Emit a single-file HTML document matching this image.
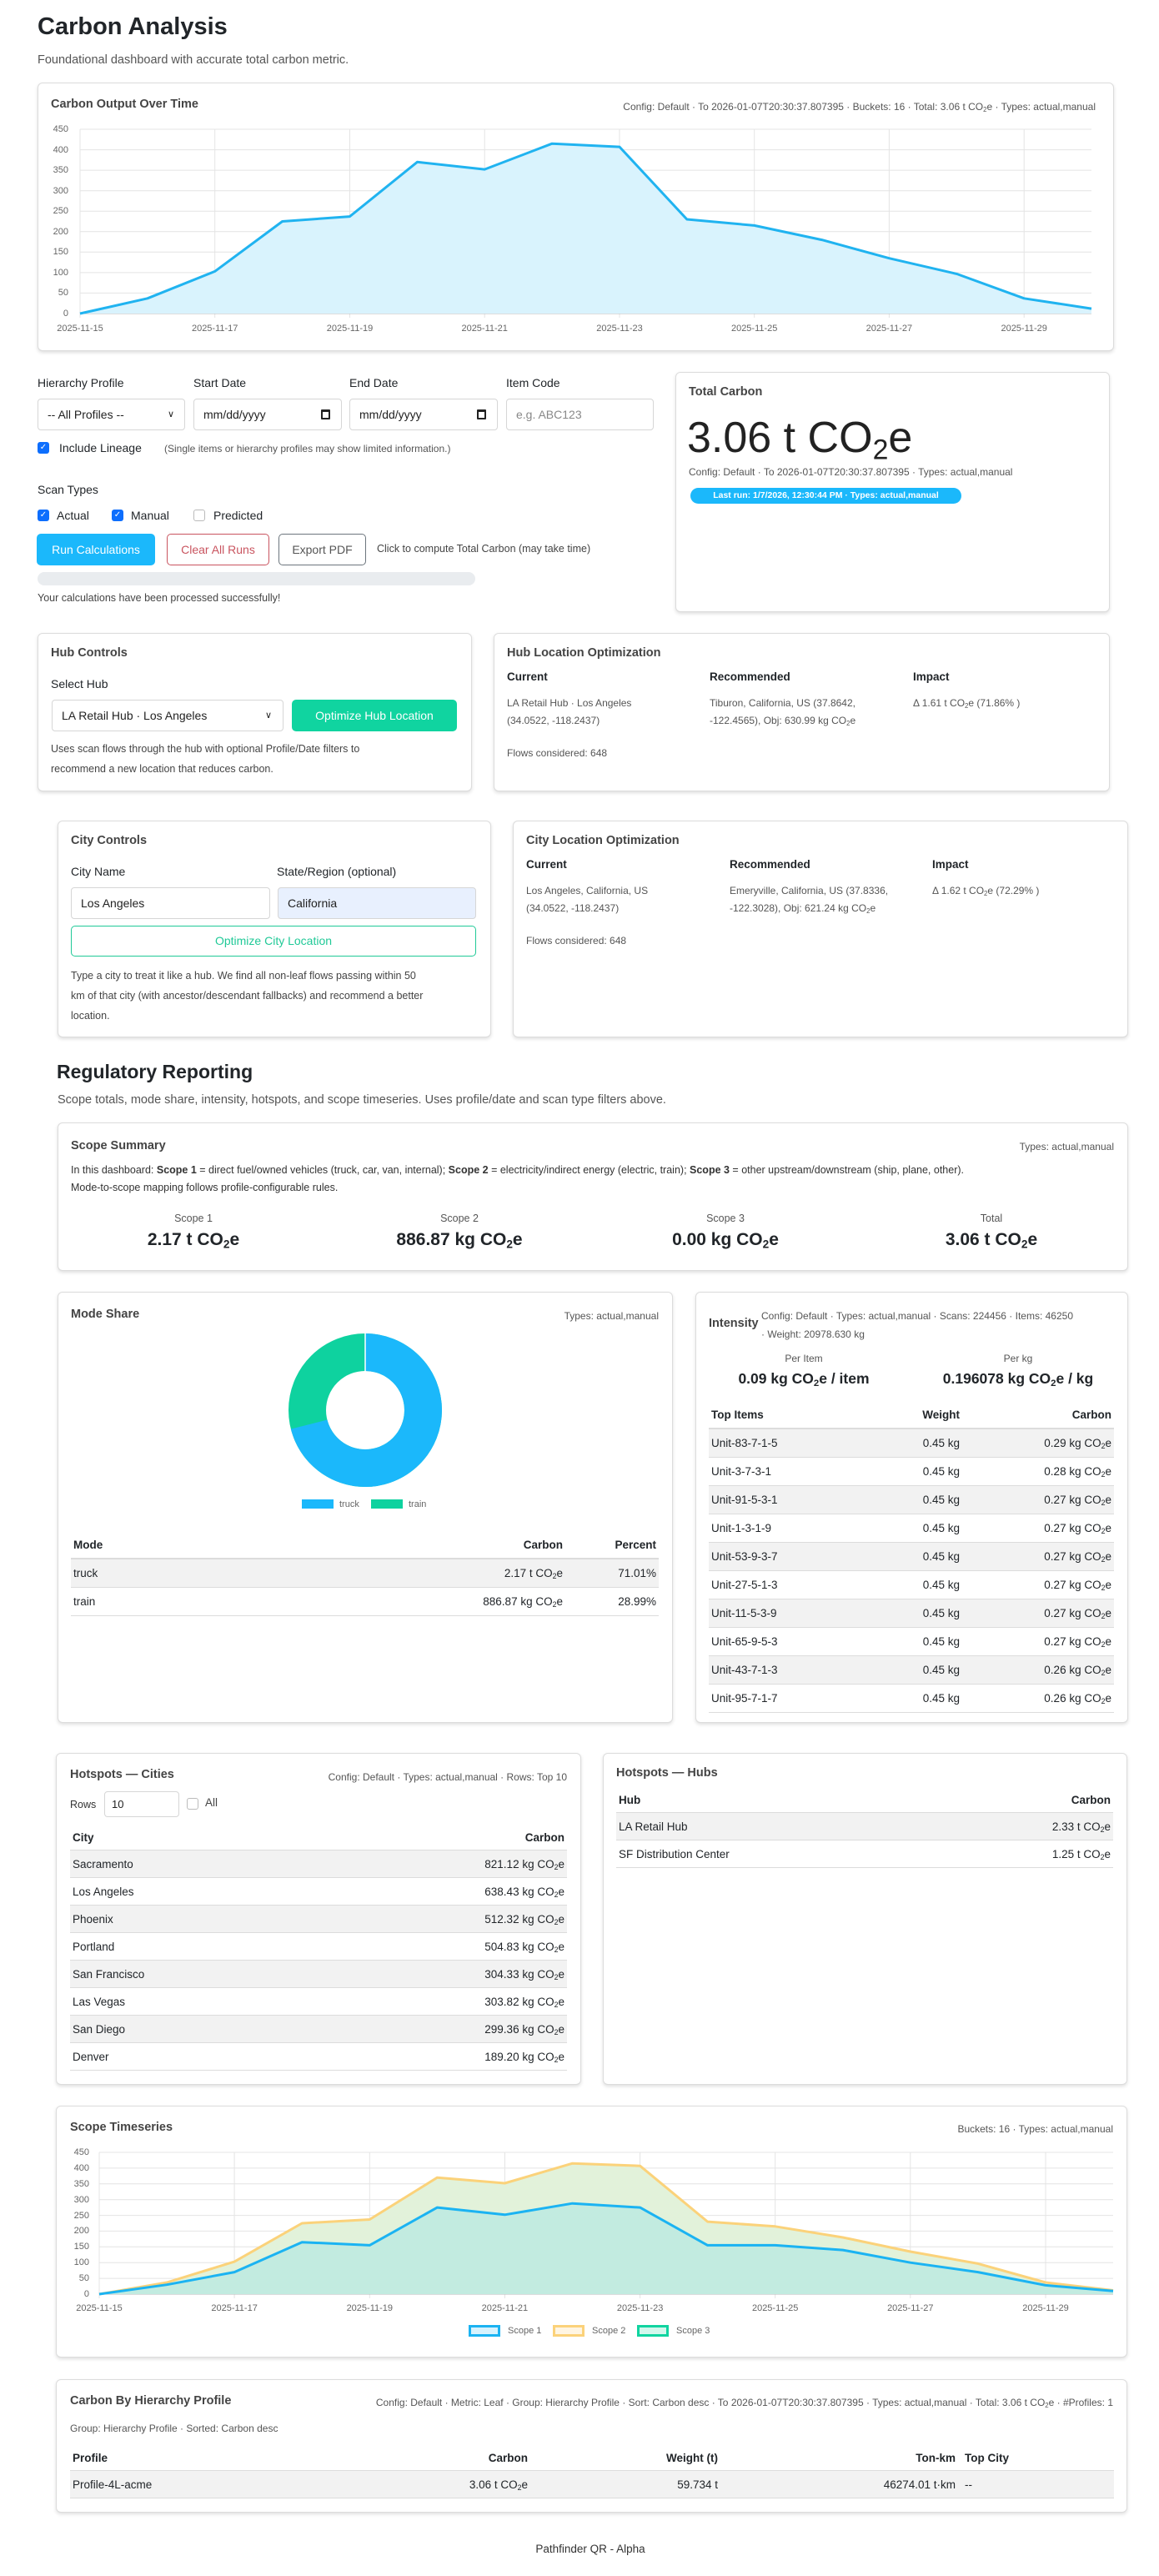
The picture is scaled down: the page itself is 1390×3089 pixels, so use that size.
<!DOCTYPE html>
<html><head><meta charset="utf-8">
<style>
*{box-sizing:border-box;margin:0;padding:0}
body{width:1390px;height:3089px;position:relative;background:#fff;font-family:"Liberation Sans",Arial,sans-serif;color:#212529;overflow:hidden}
.a{position:absolute;white-space:nowrap;line-height:20px}
.card{position:absolute;border:1px solid #dcdcdc;border-radius:6px;box-shadow:0 2px 4px rgba(0,0,0,.13);background:#fff}
.ct{font-size:14.5px;color:#444;font-weight:bold}
.m{font-size:12px;color:#555}
.s{font-size:13px;color:#444}
.b{font-weight:bold}
.inp{position:absolute;border:1px solid #d6d6d6;border-radius:4px;background:#fff;font-size:14px;line-height:36px;padding-left:11px;color:#222}
sub{font-size:0.65em;vertical-align:-0.25em;line-height:0}
.row{position:absolute;height:34px;border-bottom:1px solid #dcdcdc;font-size:13.5px;line-height:33px}
.g{background:#f2f2f2}
.row span{position:absolute;white-space:nowrap}
.hd{position:absolute;height:20px;font-size:13.5px;font-weight:bold;line-height:20px}
.hd span{position:absolute;white-space:nowrap}
.cb{position:absolute;width:14px;height:14px;border-radius:3px;background:#0d6efd;color:#fff;font-size:10px;line-height:14px;text-align:center}
.cbe{position:absolute;width:14px;height:14px;border-radius:3px;border:1px solid #bbb;background:#fff}
.yl{position:absolute;font-size:11px;color:#666;text-align:right;width:30px;line-height:12px}
.xl{position:absolute;font-size:11px;color:#666;width:80px;text-align:center;line-height:12px}
</style></head><body>

<div class="a b" style="left:45px;top:14px;font-size:29px;line-height:36px">Carbon Analysis</div>
<div class="a" style="left:45px;top:62px;font-size:14.5px;color:#555">Foundational dashboard with accurate total carbon metric.</div>

<!-- Card 1 -->
<div class="card" style="left:45px;top:99px;width:1291px;height:322px"></div>
<div class="a ct" style="left:61px;top:115px">Carbon Output Over Time</div>
<div class="a m" style="right:76px;top:118px">Config: Default · To 2026-01-07T20:30:37.807395 · Buckets: 16 · Total: 3.06 t CO<sub>2</sub>e · Types: actual,manual</div>
<svg style="position:absolute;left:0;top:140px" width="1390" height="250" viewBox="0 140 1390 250">
<g stroke="#e4e4e4" stroke-width="1">
<line x1="96" x2="1309" y1="155" y2="155"/><line x1="96" x2="1309" y1="179.6" y2="179.6"/><line x1="96" x2="1309" y1="204.1" y2="204.1"/><line x1="96" x2="1309" y1="228.7" y2="228.7"/><line x1="96" x2="1309" y1="253.2" y2="253.2"/><line x1="96" x2="1309" y1="277.8" y2="277.8"/><line x1="96" x2="1309" y1="302.3" y2="302.3"/><line x1="96" x2="1309" y1="326.9" y2="326.9"/><line x1="96" x2="1309" y1="351.4" y2="351.4"/>
<line x1="96" x2="96" y1="155" y2="381"/><line x1="257.7" x2="257.7" y1="155" y2="381"/><line x1="419.5" x2="419.5" y1="155" y2="381"/><line x1="581.2" x2="581.2" y1="155" y2="381"/><line x1="743" x2="743" y1="155" y2="381"/><line x1="904.7" x2="904.7" y1="155" y2="381"/><line x1="1066.4" x2="1066.4" y1="155" y2="381"/><line x1="1228.2" x2="1228.2" y1="155" y2="381"/>
</g>
<line x1="96" x2="1309" y1="376" y2="376" stroke="#bbb"/>
<path d="M96,376 L176.9,357.8 L257.7,325.4 L338.6,265.5 L419.5,259.6 L500.4,194.3 L581.2,203.1 L662.1,172.2 L743,176.1 L823.8,263 L904.7,270.4 L985.6,287.6 L1066.4,309.7 L1147.3,328.4 L1228.2,357.8 L1309,370.1 L1309,376 Z" fill="#d9f3fd"/>
<polyline points="96,376 176.9,357.8 257.7,325.4 338.6,265.5 419.5,259.6 500.4,194.3 581.2,203.1 662.1,172.2 743,176.1 823.8,263 904.7,270.4 985.6,287.6 1066.4,309.7 1147.3,328.4 1228.2,357.8 1309,370.1" fill="none" stroke="#20b3f0" stroke-width="3" stroke-linejoin="round"/>
</svg>
<div class="yl" style="left:52px;top:149px">450</div><div class="yl" style="left:52px;top:173.6px">400</div><div class="yl" style="left:52px;top:198.1px">350</div><div class="yl" style="left:52px;top:222.7px">300</div><div class="yl" style="left:52px;top:247.2px">250</div><div class="yl" style="left:52px;top:271.8px">200</div><div class="yl" style="left:52px;top:296.3px">150</div><div class="yl" style="left:52px;top:320.9px">100</div><div class="yl" style="left:52px;top:345.4px">50</div><div class="yl" style="left:52px;top:370px">0</div>
<div class="xl" style="left:56px;top:388px">2025-11-15</div><div class="xl" style="left:217.7px;top:388px">2025-11-17</div><div class="xl" style="left:379.5px;top:388px">2025-11-19</div><div class="xl" style="left:541.2px;top:388px">2025-11-21</div><div class="xl" style="left:703px;top:388px">2025-11-23</div><div class="xl" style="left:864.7px;top:388px">2025-11-25</div><div class="xl" style="left:1026.4px;top:388px">2025-11-27</div><div class="xl" style="left:1188.2px;top:388px">2025-11-29</div>

<!-- Form -->
<div class="a" style="left:45px;top:449px;font-size:14px">Hierarchy Profile</div>
<div class="a" style="left:232px;top:449px;font-size:14px">Start Date</div>
<div class="a" style="left:419px;top:449px;font-size:14px">End Date</div>
<div class="a" style="left:607px;top:449px;font-size:14px">Item Code</div>
<div class="inp" style="left:45px;top:478px;width:177px;height:38px">-- All Profiles --<span style="position:absolute;left:155px;font-size:11px">&#8744;</span></div>
<div class="inp" style="left:232px;top:478px;width:178px;height:38px">mm/dd/yyyy<span style="position:absolute;left:152px;top:12px;width:11px;height:12px;border:2px solid #222;border-top-width:3px;border-radius:1px"></span></div>
<div class="inp" style="left:419px;top:478px;width:178px;height:38px">mm/dd/yyyy<span style="position:absolute;left:152px;top:12px;width:11px;height:12px;border:2px solid #222;border-top-width:3px;border-radius:1px"></span></div>
<div class="inp" style="left:607px;top:478px;width:177px;height:38px;color:#888">e.g. ABC123</div>
<div class="cb" style="left:45px;top:530px">&#10003;</div>
<div class="a" style="left:71px;top:527px;font-size:14px">Include Lineage</div>
<div class="a" style="left:197px;top:528px;font-size:12px;color:#555">(Single items or hierarchy profiles may show limited information.)</div>
<div class="a" style="left:45px;top:577px;font-size:14px">Scan Types</div>
<div class="cb" style="left:45px;top:611px">&#10003;</div><div class="a" style="left:68px;top:608px;font-size:14px">Actual</div>
<div class="cb" style="left:134px;top:611px">&#10003;</div><div class="a" style="left:157px;top:608px;font-size:14px">Manual</div>
<div class="cbe" style="left:232px;top:611px"></div><div class="a" style="left:256px;top:608px;font-size:14px">Predicted</div>
<div class="a" style="left:44px;top:640px;width:142px;height:38px;background:#1bb8fb;border-radius:5px;color:#fff;font-size:14px;line-height:38px;text-align:center">Run Calculations</div>
<div class="a" style="left:200px;top:640px;width:123px;height:38px;border:1px solid #c9545f;border-radius:5px;color:#c9545f;font-size:14px;line-height:36px;text-align:center">Clear All Runs</div>
<div class="a" style="left:334px;top:640px;width:105px;height:38px;border:1px solid #6c757d;border-radius:5px;color:#555;font-size:14px;line-height:36px;text-align:center">Export PDF</div>
<div class="a" style="left:452px;top:648px;font-size:12.5px;color:#444">Click to compute Total Carbon (may take time)</div>
<div class="a" style="left:45px;top:686px;width:525px;height:16px;background:#e9ecef;border-radius:8px"></div>
<div class="a" style="left:45px;top:707px;font-size:12.5px;color:#444">Your calculations have been processed successfully!</div>

<!-- Total Carbon -->
<div class="card" style="left:810px;top:446px;width:521px;height:288px"></div>
<div class="a ct" style="left:826px;top:460px">Total Carbon</div>
<div class="a" style="left:824px;top:494px;font-size:52px;line-height:62px;color:#222">3.06 t CO<sub>2</sub>e</div>
<div class="a m" style="left:826px;top:556px">Config: Default · To 2026-01-07T20:30:37.807395 · Types: actual,manual</div>
<div class="a b" style="left:828px;top:585px;width:325px;height:19px;background:#1bb8fb;border-radius:10px;color:#fff;font-size:10.5px;line-height:19px;text-align:center">Last run: 1/7/2026, 12:30:44 PM · Types: actual,manual</div>

<!-- Hub Controls -->
<div class="card" style="left:45px;top:759px;width:521px;height:190px"></div>
<div class="a ct" style="left:61px;top:773px">Hub Controls</div>
<div class="a" style="left:61px;top:810px;font-size:14px">Select Hub</div>
<div class="inp" style="left:62px;top:839px;width:278px;height:38px">LA Retail Hub · Los Angeles<span style="position:absolute;left:255px;font-size:11px">&#8744;</span></div>
<div class="a" style="left:350px;top:839px;width:198px;height:38px;background:#10d4a0;border-radius:5px;color:#fff;font-size:14px;line-height:38px;text-align:center">Optimize Hub Location</div>
<div class="a s" style="left:61px;top:888px;font-size:12.5px">Uses scan flows through the hub with optional Profile/Date filters to</div>
<div class="a s" style="left:61px;top:912px;font-size:12.5px">recommend a new location that reduces carbon.</div>

<div class="card" style="left:592px;top:759px;width:739px;height:190px"></div>
<div class="a ct" style="left:608px;top:773px">Hub Location Optimization</div>
<div class="a b" style="left:608px;top:802px;font-size:13.5px">Current</div>
<div class="a b" style="left:851px;top:802px;font-size:13.5px">Recommended</div>
<div class="a b" style="left:1095px;top:802px;font-size:13.5px">Impact</div>
<div class="a m" style="left:608px;top:833px">LA Retail Hub · Los Angeles</div>
<div class="a m" style="left:608px;top:854px">(34.0522, -118.2437)</div>
<div class="a m" style="left:851px;top:833px">Tiburon, California, US (37.8642,</div>
<div class="a m" style="left:851px;top:854px">-122.4565), Obj: 630.99 kg CO<sub>2</sub>e</div>
<div class="a m" style="left:1095px;top:833px">Δ 1.61 t CO<sub>2</sub>e (71.86% )</div>
<div class="a m" style="left:608px;top:893px">Flows considered: 648</div>

<!-- City Controls -->
<div class="card" style="left:69px;top:984px;width:520px;height:260px"></div>
<div class="a ct" style="left:85px;top:998px">City Controls</div>
<div class="a" style="left:85px;top:1035px;font-size:14px">City Name</div>
<div class="a" style="left:332px;top:1035px;font-size:14px">State/Region (optional)</div>
<div class="inp" style="left:85px;top:1064px;width:239px;height:38px">Los Angeles</div>
<div class="inp" style="left:333px;top:1064px;width:238px;height:38px;background:#e8f0fe">California</div>
<div class="a" style="left:85px;top:1110px;width:486px;height:37px;border:1px solid #20c997;border-radius:5px;color:#20c997;font-size:14px;line-height:35px;text-align:center">Optimize City Location</div>
<div class="a" style="left:85px;top:1160px;font-size:12.5px;color:#444">Type a city to treat it like a hub. We find all non-leaf flows passing within 50</div>
<div class="a" style="left:85px;top:1184px;font-size:12.5px;color:#444">km of that city (with ancestor/descendant fallbacks) and recommend a better</div>
<div class="a" style="left:85px;top:1208px;font-size:12.5px;color:#444">location.</div>

<div class="card" style="left:615px;top:984px;width:738px;height:260px"></div>
<div class="a ct" style="left:631px;top:998px">City Location Optimization</div>
<div class="a b" style="left:631px;top:1027px;font-size:13.5px">Current</div>
<div class="a b" style="left:875px;top:1027px;font-size:13.5px">Recommended</div>
<div class="a b" style="left:1118px;top:1027px;font-size:13.5px">Impact</div>
<div class="a m" style="left:631px;top:1058px">Los Angeles, California, US</div>
<div class="a m" style="left:631px;top:1079px">(34.0522, -118.2437)</div>
<div class="a m" style="left:875px;top:1058px">Emeryville, California, US (37.8336,</div>
<div class="a m" style="left:875px;top:1079px">-122.3028), Obj: 621.24 kg CO<sub>2</sub>e</div>
<div class="a m" style="left:1118px;top:1058px">Δ 1.62 t CO<sub>2</sub>e (72.29% )</div>
<div class="a m" style="left:631px;top:1118px">Flows considered: 648</div>

<!-- Regulatory -->
<div class="a b" style="left:68px;top:1270px;font-size:23px;line-height:30px">Regulatory Reporting</div>
<div class="a" style="left:69px;top:1309px;font-size:14.5px;color:#555">Scope totals, mode share, intensity, hotspots, and scope timeseries. Uses profile/date and scan type filters above.</div>

<div class="card" style="left:69px;top:1346px;width:1284px;height:178px"></div>
<div class="a ct" style="left:85px;top:1364px">Scope Summary</div>
<div class="a m" style="right:54px;top:1365px">Types: actual,manual</div>
<div class="a" style="left:85px;top:1393px;font-size:12.5px;color:#333">In this dashboard: <b>Scope 1</b> = direct fuel/owned vehicles (truck, car, van, internal); <b>Scope 2</b> = electricity/indirect energy (electric, train); <b>Scope 3</b> = other upstream/downstream (ship, plane, other).</div>
<div class="a" style="left:85px;top:1414px;font-size:12.5px;color:#333">Mode-to-scope mapping follows profile-configurable rules.</div>
<div class="a" style="left:132px;width:200px;text-align:center;top:1451px;font-size:12.5px;color:#555">Scope 1</div>
<div class="a" style="left:451px;width:200px;text-align:center;top:1451px;font-size:12.5px;color:#555">Scope 2</div>
<div class="a" style="left:770px;width:200px;text-align:center;top:1451px;font-size:12.5px;color:#555">Scope 3</div>
<div class="a" style="left:1089px;width:200px;text-align:center;top:1451px;font-size:12.5px;color:#555">Total</div>
<div class="a b" style="left:112px;width:240px;text-align:center;top:1474px;font-size:21px;line-height:26px">2.17 t CO<sub>2</sub>e</div>
<div class="a b" style="left:431px;width:240px;text-align:center;top:1474px;font-size:21px;line-height:26px">886.87 kg CO<sub>2</sub>e</div>
<div class="a b" style="left:750px;width:240px;text-align:center;top:1474px;font-size:21px;line-height:26px">0.00 kg CO<sub>2</sub>e</div>
<div class="a b" style="left:1069px;width:240px;text-align:center;top:1474px;font-size:21px;line-height:26px">3.06 t CO<sub>2</sub>e</div>

<!-- Mode Share -->
<div class="card" style="left:69px;top:1549px;width:738px;height:517px"></div>
<div class="a ct" style="left:85px;top:1566px">Mode Share</div>
<div class="a m" style="right:600px;top:1568px">Types: actual,manual</div>
<svg style="position:absolute;left:338px;top:1591px" width="200" height="200" viewBox="0 0 200 200">
<circle cx="100" cy="100" r="69.5" fill="none" stroke="#0ed29f" stroke-width="45"/>
<circle cx="100" cy="100" r="69.5" fill="none" stroke="#1bb8fb" stroke-width="45" stroke-dasharray="310.1 500" transform="rotate(-90 100 100)"/>
<line x1="100" y1="8" x2="100" y2="55" stroke="#fff" stroke-width="1.5"/>
</svg>
<div class="a" style="left:362px;top:1798px;width:38px;height:11px;background:#1bb8fb"></div>
<div class="a" style="left:407px;top:1794px;font-size:11px;color:#666">truck</div>
<div class="a" style="left:445px;top:1798px;width:38px;height:11px;background:#0ed29f"></div>
<div class="a" style="left:490px;top:1794px;font-size:11px;color:#666">train</div>
<div class="hd" style="left:85px;top:1843px;width:705px"><span style="left:3px">Mode</span><span style="right:115px">Carbon</span><span style="right:3px">Percent</span></div>
<div style="position:absolute;left:85px;top:1868px;width:705px;height:2px;background:#dcdcdc"></div>
<div class="row g" style="left:85px;top:1870px;width:705px"><span style="left:3px">truck</span><span style="right:115px">2.17 t CO<sub>2</sub>e</span><span style="right:3px">71.01%</span></div>
<div class="row" style="left:85px;top:1904px;width:705px"><span style="left:3px">train</span><span style="right:115px">886.87 kg CO<sub>2</sub>e</span><span style="right:3px">28.99%</span></div>

<!-- Intensity -->
<div class="card" style="left:834px;top:1549px;width:519px;height:517px"></div>
<div class="a ct" style="left:850px;top:1577px">Intensity</div>
<div class="a m" style="left:913px;top:1568px">Config: Default · Types: actual,manual · Scans: 224456 · Items: 46250</div>
<div class="a m" style="left:913px;top:1590px">· Weight: 20978.630 kg</div>
<div class="a" style="left:864px;width:200px;text-align:center;top:1619px;font-size:12px;color:#555">Per Item</div>
<div class="a" style="left:1121px;width:200px;text-align:center;top:1619px;font-size:12px;color:#555">Per kg</div>
<div class="a b" style="left:844px;width:240px;text-align:center;top:1641px;font-size:17.5px;line-height:24px">0.09 kg CO<sub>2</sub>e / item</div>
<div class="a b" style="left:1091px;width:260px;text-align:center;top:1641px;font-size:17.5px;line-height:24px">0.196078 kg CO<sub>2</sub>e / kg</div>
<div class="hd" style="left:850px;top:1687px;width:486px"><span style="left:3px">Top Items</span><span style="right:185px">Weight</span><span style="right:3px">Carbon</span></div>
<div style="position:absolute;left:850px;top:1712px;width:486px;height:2px;background:#dcdcdc"></div>
<div class="row g" style="left:850px;top:1714px;width:486px"><span style="left:3px">Unit-83-7-1-5</span><span style="right:185px">0.45 kg</span><span style="right:3px">0.29 kg CO<sub>2</sub>e</span></div>
<div class="row" style="left:850px;top:1748px;width:486px"><span style="left:3px">Unit-3-7-3-1</span><span style="right:185px">0.45 kg</span><span style="right:3px">0.28 kg CO<sub>2</sub>e</span></div>
<div class="row g" style="left:850px;top:1782px;width:486px"><span style="left:3px">Unit-91-5-3-1</span><span style="right:185px">0.45 kg</span><span style="right:3px">0.27 kg CO<sub>2</sub>e</span></div>
<div class="row" style="left:850px;top:1816px;width:486px"><span style="left:3px">Unit-1-3-1-9</span><span style="right:185px">0.45 kg</span><span style="right:3px">0.27 kg CO<sub>2</sub>e</span></div>
<div class="row g" style="left:850px;top:1850px;width:486px"><span style="left:3px">Unit-53-9-3-7</span><span style="right:185px">0.45 kg</span><span style="right:3px">0.27 kg CO<sub>2</sub>e</span></div>
<div class="row" style="left:850px;top:1884px;width:486px"><span style="left:3px">Unit-27-5-1-3</span><span style="right:185px">0.45 kg</span><span style="right:3px">0.27 kg CO<sub>2</sub>e</span></div>
<div class="row g" style="left:850px;top:1918px;width:486px"><span style="left:3px">Unit-11-5-3-9</span><span style="right:185px">0.45 kg</span><span style="right:3px">0.27 kg CO<sub>2</sub>e</span></div>
<div class="row" style="left:850px;top:1952px;width:486px"><span style="left:3px">Unit-65-9-5-3</span><span style="right:185px">0.45 kg</span><span style="right:3px">0.27 kg CO<sub>2</sub>e</span></div>
<div class="row g" style="left:850px;top:1986px;width:486px"><span style="left:3px">Unit-43-7-1-3</span><span style="right:185px">0.45 kg</span><span style="right:3px">0.26 kg CO<sub>2</sub>e</span></div>
<div class="row" style="left:850px;top:2020px;width:486px"><span style="left:3px">Unit-95-7-1-7</span><span style="right:185px">0.45 kg</span><span style="right:3px">0.26 kg CO<sub>2</sub>e</span></div>

<!-- Hotspots Cities -->
<div class="card" style="left:67px;top:2102px;width:630px;height:398px"></div>
<div class="a ct" style="left:84px;top:2118px">Hotspots — Cities</div>
<div class="a m" style="right:710px;top:2121px">Config: Default · Types: actual,manual · Rows: Top 10</div>
<div class="a" style="left:84px;top:2154px;font-size:12.5px;color:#333">Rows</div>
<div class="inp" style="left:125px;top:2148px;width:90px;height:31px;line-height:29px;padding-left:8px;font-size:13px">10</div>
<div class="cbe" style="left:224px;top:2156px"></div>
<div class="a" style="left:246px;top:2152px;font-size:13.5px;color:#444">All</div>
<div class="hd" style="left:84px;top:2194px;width:596px"><span style="left:3px">City</span><span style="right:3px">Carbon</span></div>
<div style="position:absolute;left:84px;top:2218px;width:596px;height:2px;background:#dcdcdc"></div>
<div class="row g" style="left:84px;top:2219px;width:596px;height:33px"><span style="left:3px">Sacramento</span><span style="right:3px">821.12 kg CO<sub>2</sub>e</span></div>
<div class="row" style="left:84px;top:2252px;width:596px;height:33px"><span style="left:3px">Los Angeles</span><span style="right:3px">638.43 kg CO<sub>2</sub>e</span></div>
<div class="row g" style="left:84px;top:2285px;width:596px;height:33px"><span style="left:3px">Phoenix</span><span style="right:3px">512.32 kg CO<sub>2</sub>e</span></div>
<div class="row" style="left:84px;top:2318px;width:596px;height:33px"><span style="left:3px">Portland</span><span style="right:3px">504.83 kg CO<sub>2</sub>e</span></div>
<div class="row g" style="left:84px;top:2351px;width:596px;height:33px"><span style="left:3px">San Francisco</span><span style="right:3px">304.33 kg CO<sub>2</sub>e</span></div>
<div class="row" style="left:84px;top:2384px;width:596px;height:33px"><span style="left:3px">Las Vegas</span><span style="right:3px">303.82 kg CO<sub>2</sub>e</span></div>
<div class="row g" style="left:84px;top:2417px;width:596px;height:33px"><span style="left:3px">San Diego</span><span style="right:3px">299.36 kg CO<sub>2</sub>e</span></div>
<div class="row" style="left:84px;top:2450px;width:596px;height:33px"><span style="left:3px">Denver</span><span style="right:3px">189.20 kg CO<sub>2</sub>e</span></div>

<!-- Hotspots Hubs -->
<div class="card" style="left:723px;top:2102px;width:629px;height:398px"></div>
<div class="a ct" style="left:739px;top:2116px">Hotspots — Hubs</div>
<div class="hd" style="left:739px;top:2149px;width:596px"><span style="left:3px">Hub</span><span style="right:3px">Carbon</span></div>
<div style="position:absolute;left:739px;top:2173px;width:596px;height:2px;background:#dcdcdc"></div>
<div class="row g" style="left:739px;top:2174px;width:596px;height:33px"><span style="left:3px">LA Retail Hub</span><span style="right:3px">2.33 t CO<sub>2</sub>e</span></div>
<div class="row" style="left:739px;top:2207px;width:596px;height:33px"><span style="left:3px">SF Distribution Center</span><span style="right:3px">1.25 t CO<sub>2</sub>e</span></div>

<!-- Scope Timeseries -->
<div class="card" style="left:67px;top:2525px;width:1285px;height:302px"></div>
<div class="a ct" style="left:84px;top:2541px">Scope Timeseries</div>
<div class="a m" style="right:55px;top:2543px">Buckets: 16 · Types: actual,manual</div>
<svg style="position:absolute;left:0;top:2570px" width="1390" height="190" viewBox="0 2570 1390 190">
<g stroke="#e4e4e4" stroke-width="1">
<line x1="119" x2="1335" y1="2581" y2="2581"/><line x1="119" x2="1335" y1="2599.9" y2="2599.9"/><line x1="119" x2="1335" y1="2618.8" y2="2618.8"/><line x1="119" x2="1335" y1="2637.7" y2="2637.7"/><line x1="119" x2="1335" y1="2656.6" y2="2656.6"/><line x1="119" x2="1335" y1="2675.4" y2="2675.4"/><line x1="119" x2="1335" y1="2694.3" y2="2694.3"/><line x1="119" x2="1335" y1="2713.2" y2="2713.2"/><line x1="119" x2="1335" y1="2732.1" y2="2732.1"/>
<line x1="119" x2="119" y1="2581" y2="2756"/><line x1="281.1" x2="281.1" y1="2581" y2="2756"/><line x1="443.3" x2="443.3" y1="2581" y2="2756"/><line x1="605.4" x2="605.4" y1="2581" y2="2756"/><line x1="767.6" x2="767.6" y1="2581" y2="2756"/><line x1="929.7" x2="929.7" y1="2581" y2="2756"/><line x1="1091.8" x2="1091.8" y1="2581" y2="2756"/><line x1="1254" x2="1254" y1="2581" y2="2756"/>
</g>
<line x1="119" x2="1335" y1="2751" y2="2751" stroke="#bbb"/>
<path d="M119,2751 L200.1,2737 L281.1,2712.1 L362.2,2666 L443.3,2661.5 L524.4,2611.2 L605.4,2618 L686.5,2594.2 L767.6,2597.2 L848.6,2664.1 L929.7,2669.8 L1010.8,2683 L1091.8,2700 L1172.9,2714.4 L1254,2737 L1335,2746.5 L1335,2751 Z" fill="#e2f2da"/>
<path d="M119,2751 L200.1,2739.7 L281.1,2724.6 L362.2,2688.7 L443.3,2692.4 L524.4,2647.1 L605.4,2655.8 L686.5,2642.2 L767.6,2647.1 L848.6,2692.4 L929.7,2692.4 L1010.8,2698.1 L1091.8,2713.2 L1172.9,2724.6 L1254,2740.4 L1335,2747.2 L1335,2751 Z" fill="#c2ebe0"/>
<polyline points="119,2751 200.1,2737 281.1,2712.1 362.2,2666 443.3,2661.5 524.4,2611.2 605.4,2618 686.5,2594.2 767.6,2597.2 848.6,2664.1 929.7,2669.8 1010.8,2683 1091.8,2700 1172.9,2714.4 1254,2737 1335,2746.5" fill="none" stroke="#fbd27a" stroke-width="3" stroke-linejoin="round"/>
<polyline points="119,2751 200.1,2739.7 281.1,2724.6 362.2,2688.7 443.3,2692.4 524.4,2647.1 605.4,2655.8 686.5,2642.2 767.6,2647.1 848.6,2692.4 929.7,2692.4 1010.8,2698.1 1091.8,2713.2 1172.9,2724.6 1254,2740.4 1335,2747.2" fill="none" stroke="#1bb3f2" stroke-width="3" stroke-linejoin="round"/>
</svg>
<div class="yl" style="left:77px;top:2575px">450</div><div class="yl" style="left:77px;top:2593.9px">400</div><div class="yl" style="left:77px;top:2612.8px">350</div><div class="yl" style="left:77px;top:2631.7px">300</div><div class="yl" style="left:77px;top:2650.6px">250</div><div class="yl" style="left:77px;top:2669.4px">200</div><div class="yl" style="left:77px;top:2688.3px">150</div><div class="yl" style="left:77px;top:2707.2px">100</div><div class="yl" style="left:77px;top:2726.1px">50</div><div class="yl" style="left:77px;top:2745px">0</div>
<div class="xl" style="left:79px;top:2762px">2025-11-15</div><div class="xl" style="left:241.1px;top:2762px">2025-11-17</div><div class="xl" style="left:403.3px;top:2762px">2025-11-19</div><div class="xl" style="left:565.4px;top:2762px">2025-11-21</div><div class="xl" style="left:727.6px;top:2762px">2025-11-23</div><div class="xl" style="left:889.7px;top:2762px">2025-11-25</div><div class="xl" style="left:1051.8px;top:2762px">2025-11-27</div><div class="xl" style="left:1214px;top:2762px">2025-11-29</div>
<div class="a" style="left:562px;top:2788px;width:38px;height:14px;border:3px solid #1bb3f2;background:#d6f2fd"></div>
<div class="a" style="left:609px;top:2785px;font-size:11px;color:#666">Scope 1</div>
<div class="a" style="left:663px;top:2788px;width:38px;height:14px;border:3px solid #fbd27a;background:#fff5e2"></div>
<div class="a" style="left:710px;top:2785px;font-size:11px;color:#666">Scope 2</div>
<div class="a" style="left:764px;top:2788px;width:38px;height:14px;border:3px solid #10d4a0;background:#d2f7ec"></div>
<div class="a" style="left:811px;top:2785px;font-size:11px;color:#666">Scope 3</div>

<!-- Carbon by Hierarchy Profile -->
<div class="card" style="left:67px;top:2853px;width:1285px;height:160px"></div>
<div class="a ct" style="left:84px;top:2869px">Carbon By Hierarchy Profile</div>
<div class="a m" style="right:55px;top:2871px">Config: Default · Metric: Leaf · Group: Hierarchy Profile · Sort: Carbon desc · To 2026-01-07T20:30:37.807395 · Types: actual,manual · Total: 3.06 t CO<sub>2</sub>e · #Profiles: 1</div>
<div class="a m" style="left:84px;top:2902px">Group: Hierarchy Profile · Sorted: Carbon desc</div>
<div class="hd" style="left:84px;top:2938px;width:1252px"><span style="left:3px">Profile</span><span style="right:703px">Carbon</span><span style="right:475px">Weight (t)</span><span style="right:190px">Ton-km</span><span style="left:1073px">Top City</span></div>
<div style="position:absolute;left:84px;top:2962px;width:1252px;height:2px;background:#dcdcdc"></div>
<div class="row g" style="left:84px;top:2963px;width:1252px;height:33px"><span style="left:3px">Profile-4L-acme</span><span style="right:703px">3.06 t CO<sub>2</sub>e</span><span style="right:475px">59.734 t</span><span style="right:190px">46274.01 t·km</span><span style="left:1073px">--</span></div>

<div class="a" style="left:0;width:1416px;text-align:center;top:3047px;font-size:13.5px;color:#333">Pathfinder QR - Alpha</div>
</body></html>
